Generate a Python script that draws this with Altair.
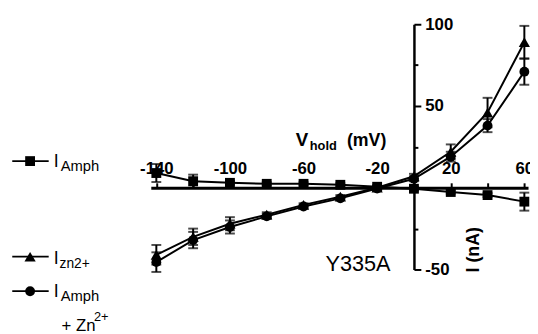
import altair as alt
import pandas as pd

# ---- data ----
volts = [-140, -120, -100, -80, -60, -40, -20, 0, 20, 40, 60]
amph = [9, 4, 3, 2.4, 2.4, 1.8, 0.6, -0.6, -2.6, -4.5, -8.5]
amph_err = [5.5, 4, 1.2, 1, 1, 1, 1, 1, 1, 1.2, 5.5]
zn = [-41, -30, -22, -16.5, -10.5, -5.5, 0, 7, 22, 46, 89]
zn_err = [6, 5, 4, 1.5, 1, 1, 1, 1.5, 4.5, 9, 10]
both = [-45.5, -32, -24, -17.5, -11.5, -6.5, -0.5, 5.5, 19, 38, 71]
both_err = [6, 5, 4, 1.5, 1, 1, 1, 1.5, 3, 4, 8]

series_names = ["amph", "zn", "both"]
series_shapes = ["square", "triangle-up", "circle"]
series_sizes = [100, 130, 100]
x_ticks = [-140, -120, -100, -80, -60, -40, -20, 0, 20, 40, 60]
x_labels = [-140, -100, -60, -20, 20, 60]
y_ticks = [-50, -25, 25, 50, 75, 100]
y_labels = [-50, 50, 100]

rows = []
for name, vals, errs in zip(series_names, [amph, zn, both], [amph_err, zn_err, both_err]):
    for v, i, e in zip(volts, vals, errs):
        rows.append({"s": name, "v": v, "i": i, "lo": i - e, "hi": i + e})
df = pd.DataFrame(rows)

FONT = "Liberation Sans"
W, H = 383, 249
XDOM = [-143, 62]
YDOM = [-50, 100]
x_zero_px = W * (0 - XDOM[0]) / (XDOM[1] - XDOM[0])
y_zero_px = H * (YDOM[1] - 0) / (YDOM[1] - YDOM[0])

xs = alt.Scale(domain=XDOM, nice=False, zero=False)
ys = alt.Scale(domain=YDOM, nice=False, zero=False)

xaxis = alt.Axis(
    orient="top", offset=-y_zero_px, values=x_ticks, title=None, grid=False,
    labelExpr="indexof(%s, datum.value) >= 0 ? (datum.value < 0 ? '-' : '') + abs(datum.value) : ''" % str(x_labels),
    labelFont=FONT, labelFontWeight="bold", labelFontSize=17, labelColor="black",
    labelPadding=5, labelFlush=False, labelOverlap=False,
    tickSize=5, tickWidth=2, tickColor="black", domainWidth=3, domainColor="black",
)
yaxis = alt.Axis(
    orient="right", offset=-(W - x_zero_px), values=y_ticks, title=None, grid=False,
    labelExpr="indexof(%s, datum.value) >= 0 ? (datum.value < 0 ? '-' : '') + abs(datum.value) : ''" % str(y_labels),
    labelFont=FONT, labelFontWeight="bold", labelFontSize=17, labelColor="black",
    labelPadding=4, labelFlush=False, labelOverlap=False,
    tickSize={"condition": {"test": "indexof(%s, datum.value) >= 0" % str(y_labels), "value": 7}, "value": 4},
    tickWidth=2, tickColor="black", domainWidth=2.5, domainColor="black",
)

def X(field="v"):
    return alt.X(field + ":Q", scale=xs, axis=xaxis)

def Y(field="i"):
    return alt.Y(field + ":Q", scale=ys, axis=yaxis)

base = alt.Chart(df)
layers = []
for name, shape, sz in zip(series_names, series_shapes, series_sizes):
    sub = base.transform_filter(alt.datum.s == name)
    layers.append(sub.mark_line(color="black", strokeWidth=2).encode(x=X(), y=Y(), order="v:Q"))
    layers.append(sub.mark_rule(color="black", strokeWidth=2).encode(x=X(), y=Y("lo"), y2="hi:Q"))
    layers.append(sub.mark_tick(color="black", orient="horizontal", size=10, thickness=2).encode(x=X(), y=Y("lo")))
    layers.append(sub.mark_tick(color="black", orient="horizontal", size=10, thickness=2).encode(x=X(), y=Y("hi")))
    layers.append(sub.mark_point(shape=shape, filled=True, color="black", opacity=1, size=sz).encode(x=X(), y=Y()))

# ---- legend at the left (positions in data units) ----
leg_y = [16.3, -42.2, -63.3]
leg_x0, leg_x1, leg_sym = -218.3, -198.5, -208.6
leg_df = pd.DataFrame({"s": series_names, "i": leg_y, "v": [leg_x0] * 3, "v2": [leg_x1] * 3, "vs": [leg_sym] * 3})
for name, shape, sz in zip(series_names, series_shapes, series_sizes):
    sub = alt.Chart(leg_df).transform_filter(alt.datum.s == name)
    layers.append(sub.mark_rule(color="black", strokeWidth=1.8).encode(x=X(), x2="v2:Q", y=Y()))
    layers.append(sub.mark_point(shape=shape, filled=True, color="black", opacity=1, size=sz).encode(x=X("vs"), y=Y()))

# text annotations: (text, v, i, size, bold, angle)
ann_text = ["I", "Amph", "I", "zn2+", "I", "Amph", "+ Zn", "2+",
            "V", "hold", "(mV)", "Y335A", "I (nA)"]
ann_v = [-195.8, -192.0, -195.8, -192.6, -195.8, -192.0, -191.5, -173.9,
         -64.2, -56.6, -36.4, -48.1, 35.2]
ann_i = [12.7, 10.2, -46.4, -48.8, -66.9, -69.3, -87.5, -81.3,
         25.3, 22.9, 25.3, -51.2, -51.8]
ann_size = [18, 15, 18, 14, 18, 15, 17, 13,
            19, 13, 18, 22, 18]
ann_bold = [False] * 8 + [True, True, True, False, True]
ann_angle = [0] * 12 + [270]
ann = pd.DataFrame({"t": ann_text, "v": ann_v, "i": ann_i, "fs": ann_size,
                    "b": ann_bold, "a": ann_angle})
for bold in [False, True]:
    sub = alt.Chart(ann).transform_filter(alt.datum.b == bold)
    layers.append(sub.mark_text(align="left", baseline="alphabetic", font=FONT,
                                fontWeight="bold" if bold else "normal", color="black").encode(
        x=X(), y=Y(), text="t:N",
        size=alt.Size("fs:Q", scale=None, legend=None),
        angle=alt.Angle("a:Q", scale=None, legend=None)))

chart = alt.layer(*layers).properties(
    width=W, height=H,
    autosize=alt.AutoSizeParams(type="none"),
    padding={"left": 145, "top": 14, "right": 2, "bottom": 63},
    background="white",
).configure_view(stroke=None)

chart.save("out.html", embed_options={"renderer": "svg", "actions": False})
